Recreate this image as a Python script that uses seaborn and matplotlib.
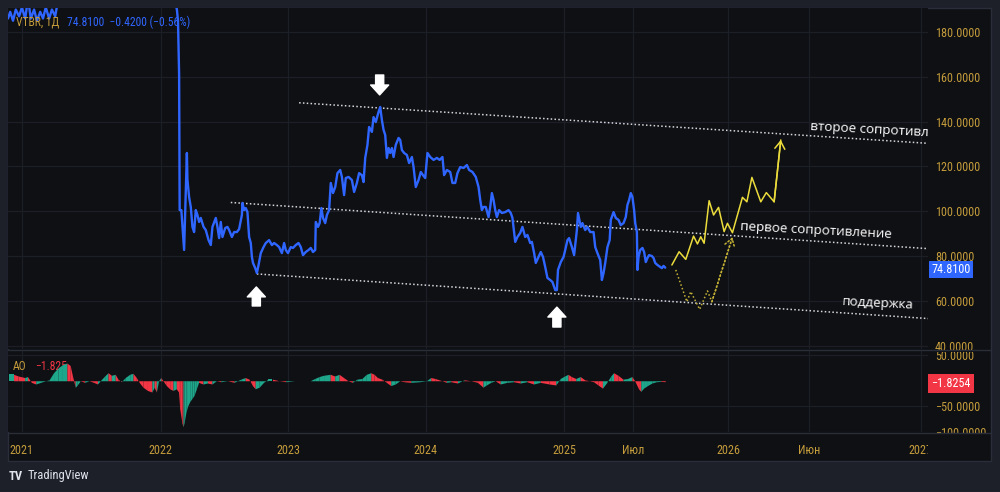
import matplotlib
matplotlib.use("Agg")
import matplotlib.pyplot as plt
import seaborn as sns
import pandas as pd
from matplotlib.patches import Rectangle
from matplotlib.lines import Line2D
from matplotlib.transforms import Bbox, TransformedBbox

# ---------------- data (x = trading-session index on the chart) ----------------
idx_2021 = [0, 4, 9, 14, 20, 25, 31, 36, 41, 47, 52, 58, 63, 68, 74, 79, 85, 94, 103, 112, 121,
            139, 157, 175, 193, 211, 229, 247, 265]
px_2021 = [186, 189, 185, 190, 187, 191, 186, 195, 186, 190, 185, 189, 186, 191, 186, 190, 187, 200,
           215, 225, 212, 205, 210, 220, 215, 222, 208, 200, 205]

idx_2022 = [283, 295, 304, 306, 307, 308, 309, 312, 317, 322, 323, 326, 329, 332, 335, 338, 341, 344,
            347, 352, 356, 361, 365, 368, 374, 377, 380, 383, 386, 391, 395, 398, 403, 407, 412, 416,
            421, 422, 425, 428, 431, 434, 437, 439, 441, 445, 448, 451, 455, 460, 464, 470, 475, 479,
            484, 488, 493, 497, 500]
px_2022 = [198, 200, 190, 185, 172, 161, 100.5, 100.5, 82.7, 126, 114, 106.3, 101.9, 93, 90.7, 100.5,
           98.3, 95.2, 97, 93, 91.6, 87.1, 84.9, 93, 97, 93, 88, 95.2, 88.5, 92.5, 93, 91.6, 88.5,
           90.7, 90.7, 92, 98.3, 103.7, 100.5, 101.4, 99.6, 88.5, 85.8, 79.6, 76.9, 74.6, 72.4, 76,
           81.3, 84, 85.8, 87.1, 84.9, 85.8, 84.9, 84, 81.3, 85.8, 82.7]

idx_2023 = [504, 509, 513, 518, 523, 527, 531, 536, 541, 545, 549, 553, 554, 558, 561, 564, 567, 571,
            574, 578, 581, 585, 589, 593, 598, 601, 605, 608, 613, 619, 623, 628, 632, 637, 640, 643,
            647, 650, 655, 658, 662, 667, 670, 673, 676, 679, 682, 685, 688, 691, 694, 698, 703, 706,
            709, 713, 718, 722, 727, 730, 734, 739, 743, 747, 751]
px_2023 = [81.3, 84, 83.6, 84.9, 85.8, 84, 80.4, 81.8, 82.7, 83.6, 81.8, 82.7, 95.2, 93, 94.7, 101.4,
           97, 94.7, 98.3, 100.5, 112.6, 108.1, 110.8, 117, 118.4, 115.3, 107.2, 114.8, 115.3, 113.9,
           108.6, 112.6, 117, 116.1, 113, 123.8, 129.6, 137.6, 135.4, 142, 139.8, 144.3, 146.5, 140.7,
           136.3, 134, 123.8, 128.2, 126, 128.2, 124.2, 129.6, 132.7, 131.8, 127.3, 126, 125.1, 121.5,
           124.2, 119.7, 110.8, 113.9, 117.5, 116.1, 114.8]

idx_2024 = [755, 760, 766, 772, 777, 782, 785, 790, 796, 800, 805, 809, 814, 820, 826, 830, 836, 842,
            847, 850, 853, 856, 860, 865, 868, 871, 874, 877, 880, 884, 889, 895, 901, 905, 908, 913,
            917, 922, 926, 931, 935, 940, 943, 947, 950, 955, 959, 963, 967, 971, 976, 980, 985, 988,
            990, 995]
px_2024 = [126, 124.2, 122.9, 123.8, 122.9, 124.2, 116.1, 118.4, 117.5, 112.6, 112.6, 117, 119.7,
           119.3, 120.6, 118.4, 117.5, 115.3, 110.8, 105, 100.5, 101.9, 101.9, 97.4, 101.9, 108.1,
           105, 100.5, 97.4, 100.5, 99.2, 99.6, 100.5, 99.2, 97, 86.3, 88.5, 90.3, 93, 88.5, 89.4,
           85.8, 86.3, 81.3, 76.9, 79.6, 81.8, 79.6, 75.1, 70.2, 69.3, 68.4, 64.8, 64.8, 73.8, 77.3]

idx_2025 = [1000, 1003, 1007, 1010, 1015, 1019, 1024, 1026, 1031, 1034, 1039, 1043, 1048, 1054, 1057,
            1061, 1066, 1069, 1072, 1075, 1079, 1083, 1085, 1090, 1094, 1099, 1103, 1108, 1112, 1115,
            1118, 1121, 1124, 1127, 1129, 1132, 1133, 1135, 1138, 1142, 1145, 1148, 1151, 1154, 1159,
            1162, 1165, 1169, 1174, 1177, 1180, 1183]
px_2025 = [79.6, 82.7, 87.1, 88, 84, 80.4, 91.6, 99.2, 93, 94.7, 91.6, 93, 90.7, 90.7, 84, 81.3, 78.2,
           69.3, 72.4, 76.9, 84, 87.1, 96.1, 99.6, 97, 96.1, 93.8, 94.7, 97.4, 102.8, 105, 108.1,
           106.3, 100.5, 94.7, 90.7, 73.8, 79.6, 82.7, 83.6, 81.8, 77.3, 79.1, 80.4, 80, 79.1, 76.9,
           76, 75.1, 74.6, 75.6, 74.81]

# Awesome Oscillator
ao_idx = [2, 10, 18, 30, 35, 42, 50, 62, 74, 82, 90, 98, 106, 112, 116, 121, 124, 130, 138, 146, 154,
          161, 166, 174, 180, 186, 193, 198, 204, 211, 219, 225, 231, 236, 243, 251, 259, 263, 267,
          271, 275, 279, 285, 291, 297, 303, 307, 309, 313, 315, 317, 320, 323, 327, 331, 335, 339,
          343, 351, 359, 367, 375, 383, 395, 407, 419, 427, 434, 440, 445, 452, 460, 468, 476, 488,
          500, 516, 532, 544, 552, 560, 568, 580, 588, 596, 604, 612, 620, 628, 637, 645, 653, 659,
          665, 673, 681, 689, 697, 705, 713, 725, 741, 753, 761, 769, 781, 789, 797, 809, 821, 833,
          845, 855, 861, 869, 877, 886, 898, 910, 922, 934, 946, 958, 974, 986, 994, 1002, 1008, 1014,
          1022, 1030, 1038, 1046, 1054, 1062, 1070, 1078, 1085, 1090, 1098, 1107, 1115, 1123, 1128,
          1135, 1139, 1144, 1151, 1159, 1167, 1175, 1183]
ao_val = [12.6, 12.6, 9.4, 6.3, 8.2, -3.1, -6.3, -1.9, 1.9, 15.7, 25.2, 31.4, 34.6, 29.6, 9.4, -12.6,
          -9.4, 0, -3.1, 0, -3.1, -6.3, 0, 9.4, 15.7, 10.7, 12.6, 3.1, -1.9, 6.3, 12.6, 14.5, 6.3,
          -3.1, -12.6, -18.9, -22.0, -12.6, -22.0, 0, 6.3, 0, -9.4, -15.7, -18.9, -15.7, -22.0,
          -53.5, -81.8, -89.9, -81.8, -62.9, -50.3, -40.9, -34.6, -28.3, -15.7, -3.1, -6.3, -4.4,
          -6.3, 0, -1.9, 0, -3.1, 3.1, 6.3, 3.1, -9.4, -15.7, -12.6, -3.1, 3.1, 3.1, 0, -1.9, 0, 0,
          0, 4.4, 8.2, 10.7, 12.6, 9.4, 12.6, 6.3, 0, -3.1, 3.1, 4.4, 12.6, 15.7, 12.6, 6.3, 3.1,
          -3.1, -9.4, -6.3, 0, -1.9, -3.1, -1.9, 0, 6.3, 4.4, 0, -3.1, -1.9, -4.4, 1.9, 0, -3.1,
          -12.6, -8.2, -3.1, 0, -6.3, -3.1, -1.9, -4.4, -1.9, -6.3, -3.1, -6.3, -8.2, 4.4, 9.4,
          12.6, 8.2, 4.4, 8.2, 1.9, 0, -1.9, -8.2, -14.5, -3.1, 9.4, 15.7, 10.7, 3.1, 4.4, 8.2, 0,
          -15.7, -20.8, -14.5, -9.4, -4.4, -1.9, -1.3, -1.8254]

# drawn forecast paths
fc_main_idx = [1195, 1208, 1220, 1234, 1241, 1247, 1253, 1262, 1270, 1279, 1289, 1295, 1304, 1322,
               1330, 1339, 1355, 1365, 1379, 1391]
fc_main_val = [76, 81.9, 78.5, 88.9, 85.4, 88.6, 85.7, 104.7, 98.3, 101.7, 90.9, 94.6, 90.4, 106.2,
               104.2, 115.1, 104.2, 108.3, 104.2, 131.8]
fc_alt_idx = [1202, 1222, 1229, 1245, 1259, 1267, 1304]
fc_alt_val = [73.8, 59.6, 64.1, 56.2, 64.4, 59.6, 88.4]

# channel lines (start, end)
res2_idx, res2_val = [524, 1656], [148.4, 130.3]
res1_idx, res1_val = [401, 1656], [103.9, 83.3]
sup_idx, sup_val = [448, 1656], [72.0, 52.1]

tick_pos = [25, 275, 504, 752, 1001, 1125, 1296, 1442, 1643]
tick_labels = ["2021", "2022", "2023", "2024", "2025", "Июл", "2026", "Июн", "2027"]
price_ticks = [40, 60, 80, 100, 120, 140, 160, 180]
ao_ticks = [50, -50, -100]

ticker = "VTBR, 1Д"
last_price, last_change, last_pct = 74.81, -0.42, -0.56
last_ao = -1.8254

labels_text = ["второе сопротивление", "первое сопротивление", "поддержка"]
labels_pos = [(1444, 137.6), (1318, 93.1), (1501, 59.6)]

# ---------------- styling ----------------
sns.set_theme(style="dark")
NARROW = ["Roboto Condensed", "Liberation Sans", "DejaVu Sans"]
plt.rcParams["font.family"] = NARROW
plt.rcParams["axes.unicode_minus"] = True

BG_OUT = "#1d2029"
BG_IN = "#0f1014"
GRID = "#1d1f26"
BORDER = "#2a2e39"
GOLD = "#c49c3b"
BLUE = "#2f66ff"
GREEN = "#1fa78c"
RED = "#f23645"
YEL = "#ebdc3c"
YEL_D = "#c4b235"
FS = 8.7
FS_LEG = 8.4

W, H = 1000, 492
fig = plt.figure(figsize=(10, 4.92), dpi=100)
fig.patch.set_facecolor(BG_OUT)


def fx(px):
    return px / W


def fy(py):
    return 1 - py / H


fig.add_artist(Rectangle((fx(8), fy(461)), fx(991 - 8), (461 - 8) / H, transform=fig.transFigure,
                         facecolor=BG_IN, edgecolor=BORDER, lw=1, zorder=0))

ax = fig.add_axes([fx(8), fy(349), fx(920), (349 - 8) / H])
ax2 = fig.add_axes([fx(8), fy(432), fx(920), (432 - 350) / H])

for a in (ax, ax2):
    a.set_facecolor(BG_IN)
    for s in a.spines.values():
        s.set_visible(False)
    a.set_xlim(0, 1656)
    a.set_xticks(tick_pos)
    a.grid(True, color=GRID, lw=0.9)
    a.tick_params(length=0, colors=GOLD, labelsize=FS)
    a.yaxis.tick_right()

ax.set_ylim(38.5, 190.7)
ax.set_yticks(price_ticks)
ax.set_yticklabels([f"{v:.4f}" for v in price_ticks])
ax.tick_params(axis="y", pad=5)
ax.set_xticklabels([])

# price line
price_df = pd.DataFrame({
    "idx": idx_2021 + idx_2022 + idx_2023 + idx_2024 + idx_2025,
    "close": px_2021 + px_2022 + px_2023 + px_2024 + px_2025,
})
sns.lineplot(data=price_df, x="idx", y="close", ax=ax, color=BLUE, lw=1.7, sort=False, zorder=4)

# channel lines
for xi, yi in ((res2_idx, res2_val), (res1_idx, res1_val), (sup_idx, sup_val)):
    ax.plot(xi, yi, color="#d5d7dc", lw=1.1, ls=(0, (1, 1.5)), zorder=3)

# forecasts
sns.lineplot(x=fc_main_idx, y=fc_main_val, ax=ax, color=YEL, lw=1.1, sort=False, zorder=5)
ax.annotate("", xy=(fc_main_idx[-1], fc_main_val[-1]), xytext=(fc_main_idx[-2], fc_main_val[-2]),
            arrowprops=dict(arrowstyle="->,head_length=0.45,head_width=0.3", color=YEL, lw=1.1,
                            mutation_scale=12, shrinkA=0, shrinkB=0), zorder=5)
ax.plot(fc_alt_idx, fc_alt_val, color=YEL_D, lw=1.1, ls=(0, (1, 1.5)), zorder=5)
ax.annotate("", xy=(fc_alt_idx[-1], fc_alt_val[-1]), xytext=(fc_alt_idx[-2], fc_alt_val[-2]),
            arrowprops=dict(arrowstyle="->,head_length=0.45,head_width=0.3", color=YEL_D, lw=1.1,
                            ls=(0, (1, 1.5)), mutation_scale=12, shrinkA=0, shrinkB=0), zorder=5)
ax.set_xlabel("")
ax.set_ylabel("")

# white block arrows at the pivots
arrow_style = "simple,head_length=0.55,head_width=1.0,tail_width=0.45"
for tail, tip in (((669, 160.8), (669, 151.9)), ((447, 57.7), (447, 66.2)), ((988, 48.3), (988, 57.2))):
    ax.annotate("", xy=tip, xytext=tail,
                arrowprops=dict(arrowstyle=arrow_style, color="white", mutation_scale=13,
                                shrinkA=0, shrinkB=0), zorder=6)

# channel labels
for txt, (xx, yy) in zip(labels_text, labels_pos):
    ax.text(xx, yy, txt, color="white", fontsize=9.6, family=["Open Sans", "DejaVu Sans"],
            ha="left", va="center", rotation=-3, rotation_mode="anchor", clip_on=True, zorder=7)

# last price tag
ax.annotate(f"{last_price:.4f}", xy=(1.0, last_price - 0.8), xycoords=ax.get_yaxis_transform(),
            xytext=(2.5, 0), textcoords="offset points", ha="left", va="center", color="white",
            fontsize=FS, annotation_clip=False,
            bbox=dict(boxstyle="square,pad=0.18", fc=BLUE, ec="none"), zorder=8)

# ---------------- AO pane ----------------
ax2.set_ylim(-100, 60)
ax2.set_yticks(ao_ticks)
ax2.set_yticklabels([f"{v:.4f}".replace("-", "\u2212") for v in ao_ticks])
ax2.tick_params(axis="y", pad=5)
ax2.set_xticklabels(tick_labels)
ax2.tick_params(axis="x", pad=9)
for i in range(len(ao_idx) - 1):
    col = GREEN if ao_val[i + 1] >= ao_val[i] else RED
    ax2.fill_between([ao_idx[i], ao_idx[i + 1]], 0, [ao_val[i], ao_val[i + 1]], color=col, lw=0, zorder=3)

clip_x = TransformedBbox(Bbox([[0, 0], [fx(928), 1]]), fig.transFigure)
for lab in ax2.get_xticklabels():
    lab.set_clip_box(clip_x)
    lab.set_clip_on(True)
clip_y = TransformedBbox(Bbox([[0, fy(433)], [1, fy(352)]]), fig.transFigure)
for lab in ax2.get_yticklabels():
    lab.set_clip_box(clip_y)
    lab.set_clip_on(True)

ax2.annotate(f"{last_ao:.4f}".replace("-", "\u2212"), xy=(1.0, last_ao - 4), xycoords=ax2.get_yaxis_transform(),
             xytext=(2.5, 0), textcoords="offset points", ha="left", va="center", color="white",
             fontsize=FS, annotation_clip=False,
             bbox=dict(boxstyle="square,pad=0.25", fc=RED, ec="none"), zorder=8)

ax2.text(0.005, 0.80, "AO", transform=ax2.transAxes, color=GOLD, fontsize=FS_LEG, va="center", zorder=1)
ax2.text(0.030, 0.80, f"{last_ao:.4f}".replace("-", "\u2212")[:-1], transform=ax2.transAxes, color=RED,
         fontsize=FS_LEG, va="center", zorder=1)

# separators
fig.add_artist(Line2D([fx(8), fx(991)], [fy(350), fy(350)], transform=fig.transFigure, color=BORDER, lw=1))
fig.add_artist(Line2D([fx(8), fx(991)], [fy(433), fy(433)], transform=fig.transFigure, color=BORDER, lw=1))

# header legend (second part placed right after the first)
t1 = fig.text(fx(16), fy(22), ticker, color=GOLD, fontsize=FS_LEG, va="center")
fig.canvas.draw()
bb = t1.get_window_extent(renderer=fig.canvas.get_renderer())
fig.text((bb.x1 + 8) / W, fy(22),
         f"{last_price:.4f}  {last_change:.4f} ({last_pct:.2f}%)".replace("-", "\u2212"),
         color=BLUE, fontsize=FS_LEG, va="center")

# TradingView mark
fig.text(fx(9), fy(476), "TV", color="#e0e3eb", fontsize=9, weight="bold", va="center")
fig.text(fx(28), fy(476), "TradingView", color="#e0e3eb", fontsize=9, va="center")

fig.savefig("out.png", dpi=100, facecolor=fig.get_facecolor())
